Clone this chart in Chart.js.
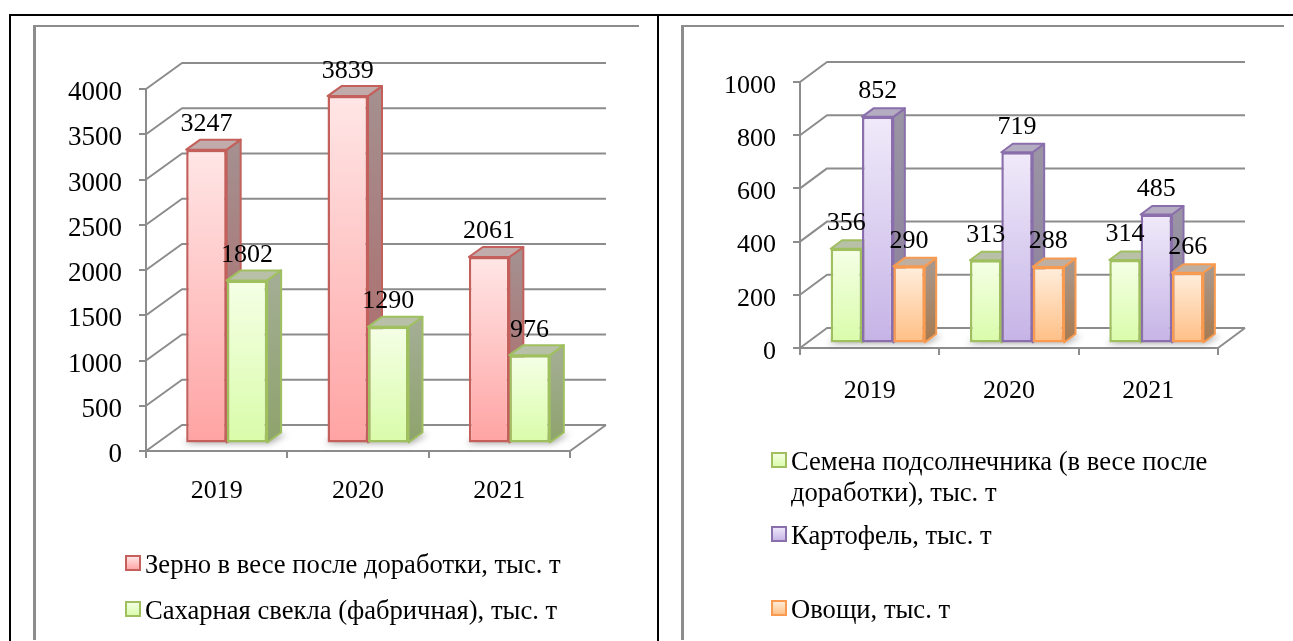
<!DOCTYPE html>
<html lang="ru">
<head>
<meta charset="utf-8">
<title>Производство продукции</title>
<script src="https://cdn.jsdelivr.net/npm/chart.js@4"></script>
<style>
    html, body { margin: 0; padding: 0; background: #fff; overflow: hidden; }
    body { width: 1293px; height: 641px; position: relative; }
    canvas { position: absolute; top: 0; }
    .line { position: absolute; }
    .black { background: #000; }
    .gray { background: #8c8c8c; }
</style>
</head>
<body>
<!-- table frame and chart borders -->
<div class="line black" style="left:9px;top:14px;width:1284px;height:2px"></div>
<div class="line black" style="left:9px;top:14px;width:2px;height:627px"></div>
<div class="line black" style="left:657px;top:14px;width:2px;height:627px"></div>
<div class="line gray" style="left:33px;top:25px;width:606px;height:2px"></div>
<div class="line gray" style="left:33px;top:25px;width:3px;height:615px"></div>
<div class="line gray" style="left:681px;top:25px;width:603px;height:2px"></div>
<div class="line gray" style="left:681px;top:25px;width:3px;height:615px"></div>
<canvas id="chartLeft" width="650" height="641" style="left:0"></canvas>
<canvas id="chartRight" width="633" height="641" style="left:660px"></canvas>
<script>
// Chart data
const categories = ['2019', '2020', '2021'];

const grainValues = [3247, 3839, 2061];
const beetValues = [1802, 1290, 976];
const sunflowerValues = [356, 313, 314];
const potatoValues = [852, 719, 485];
const vegetableValues = [290, 288, 266];

const grainName = ['Зерно в весе после доработки, тыс. т'];
const beetName = ['Сахарная свекла (фабричная), тыс. т'];
const sunflowerName = ['Семена подсолнечника (в весе после', 'доработки), тыс. т'];
const potatoName = ['Картофель, тыс. т'];
const vegetableName = ['Овощи, тыс. т'];

// Colours
const RED = { border: '#c4605c', light: '#ffe6e6', dark: '#ffa3a3', sideTop: '#a58f8f', sideBottom: '#b06565', roof: '#c2abab' };
const GREEN = { border: '#a0c060', light: '#f5ffe6', dark: '#d9fca9', sideTop: '#a3ad93', sideBottom: '#8ea36c', roof: '#b8c0a8' };
const PURPLE = { border: '#8a6fac', light: '#f0eafa', dark: '#c5b3e6', sideTop: '#9a94a4', sideBottom: '#8a7e9c', roof: '#b4acc0' };
const ORANGE = { border: '#f89a50', light: '#ffeedd', dark: '#ffbe84', sideTop: '#a8968a', sideBottom: '#a67a50', roof: '#bfafa0' };

const GRID_COLOR = '#8c8c8c';
const FONT_FAMILY = '"Liberation Serif", serif';

// Bar front face gradient, light on top and darker at the floor
function barGradient(colors) {
    return (context) => {
        const chart = context.chart;
        const yScale = chart.scales.y;
        if (!yScale || context.type !== 'data') return colors.dark;
        const top = yScale.getPixelForValue(context.raw);
        const bottom = yScale.getPixelForValue(0);
        if (!Number.isFinite(top) || !Number.isFinite(bottom)) return colors.dark;
        const gradient = chart.ctx.createLinearGradient(0, top, 0, bottom);
        gradient.addColorStop(0, colors.light);
        gradient.addColorStop(1, colors.dark);
        return gradient;
    };
}

function makeDataset(name, values, colors) {
    return {
        label: name.join(' '),
        data: values,
        colors: colors,
        lines: name,
        backgroundColor: barGradient(colors),
        borderColor: colors.border,
        borderWidth: 2.5,
        borderSkipped: false,
        clip: false
    };
}

// Side and top faces of one bar
function drawBarFaces(ctx, bar, colors, opts) {
    const l = bar.x - bar.width / 2;
    const r = bar.x + bar.width / 2;
    const t = bar.y, b = bar.base;

    const side = ctx.createLinearGradient(0, t, 0, b);
    side.addColorStop(0, colors.sideTop);
    side.addColorStop(1, colors.sideBottom);

    ctx.lineWidth = 2;
    ctx.lineJoin = 'round';
    ctx.strokeStyle = colors.border;

    ctx.fillStyle = side;
    ctx.beginPath();
    ctx.moveTo(r, t);
    ctx.lineTo(r + opts.depthX, t - opts.depthY);
    ctx.lineTo(r + opts.depthX, b - opts.depthY);
    ctx.lineTo(r, b);
    ctx.closePath();
    ctx.fill();
    ctx.stroke();

    ctx.fillStyle = colors.roof;
    ctx.beginPath();
    ctx.moveTo(l, t);
    ctx.lineTo(l + opts.depthX, t - opts.depthY);
    ctx.lineTo(r + opts.depthX, t - opts.depthY);
    ctx.lineTo(r, t);
    ctx.closePath();
    ctx.fill();
    ctx.stroke();
}

// Draws walls, floor, bars in series order (left bar first), value labels and legend
const fake3d = {
    id: 'fake3d',
    beforeDatasetsDraw(chart, args, opts) {
        const { ctx, scales: { x, y } } = chart;
        const left = x.left, right = x.right, floor = y.getPixelForValue(0);
        const metas = chart.getSortedVisibleDatasetMetas();

        ctx.save();
        ctx.strokeStyle = GRID_COLOR;
        ctx.lineWidth = 2;
        ctx.lineJoin = 'round';

        // Side wall and back wall grid lines
        y.ticks.forEach((tick) => {
            const py = y.getPixelForValue(tick.value);
            ctx.beginPath();
            ctx.moveTo(left, py);
            ctx.lineTo(left + opts.wallX, py - opts.wallY);
            ctx.lineTo(right + opts.wallX, py - opts.wallY);
            ctx.stroke();
        });

        // Floor right edge
        ctx.beginPath();
        ctx.moveTo(right, floor);
        ctx.lineTo(right + opts.wallX, floor - opts.wallY);
        ctx.stroke();

        // Soft shadow on the floor
        const first = metas[0].data, last = metas[metas.length - 1].data;
        ctx.filter = 'blur(3px)';
        ctx.fillStyle = 'rgba(0, 0, 0, 0.35)';
        first.forEach((bar, i) => {
            const x0 = bar.x - bar.width / 2 + opts.shiftX;
            const x1 = last[i].x + last[i].width / 2 + opts.shiftX;
            const yb = floor - opts.shiftY;
            ctx.beginPath();
            ctx.moveTo(x0 - 3, yb);
            ctx.lineTo(x1 + 2, yb);
            ctx.lineTo(x1 + opts.depthX + 6, yb - opts.depthY + 1);
            ctx.lineTo(x0 + opts.depthX, yb - opts.depthY + 1);
            ctx.closePath();
            ctx.fill();
        });
        ctx.restore();

        // Chart.js paints the last series first, here the later series must lie on top
        metas.forEach((meta) => {
            const colors = chart.data.datasets[meta.index].colors;
            ctx.save();
            ctx.translate(opts.shiftX, -opts.shiftY);
            meta.data.forEach((bar) => drawBarFaces(ctx, bar, colors, opts));
            meta.controller.draw();
            ctx.restore();
        });
        return false;
    },
    afterDraw(chart, args, opts) {
        const { ctx } = chart;
        ctx.save();
        ctx.fillStyle = '#000';
        ctx.font = `26px ${FONT_FAMILY}`;
        ctx.textAlign = 'center';
        ctx.textBaseline = 'alphabetic';
        chart.getSortedVisibleDatasetMetas().forEach((meta) => {
            meta.data.forEach((bar, i) => {
                const value = chart.data.datasets[meta.index].data[i];
                ctx.fillText(String(value), bar.x + opts.shiftX, bar.y - opts.shiftY - opts.labelGap);
            });
        });

        // Legend
        ctx.textAlign = 'left';
        ctx.font = `${opts.legendSize}px ${FONT_FAMILY}`;
        chart.data.datasets.forEach((dataset, i) => {
            const top = opts.legendTops[i];
            const colors = dataset.colors;
            const gradient = ctx.createLinearGradient(0, top, 0, top + 14);
            gradient.addColorStop(0, colors.light);
            gradient.addColorStop(1, colors.dark);
            ctx.fillStyle = gradient;
            ctx.strokeStyle = colors.border;
            ctx.lineWidth = 2;
            ctx.fillRect(opts.legendX, top, 14, 14);
            ctx.strokeRect(opts.legendX, top, 14, 14);
            ctx.fillStyle = '#000';
            dataset.lines.forEach((line, n) => {
                ctx.fillText(line, opts.legendX + 19, top + 17 + n * 30.5);
            });
        });
        ctx.restore();
    }
};

function makeChart(id, datasets, maxValue, step, percent, area, fakeOptions) {
    return new Chart(document.getElementById(id), {
        type: 'bar',
        data: { labels: categories, datasets: datasets },
        plugins: [fake3d],
        options: {
            responsive: false,
            animation: false,
            events: [],
            categoryPercentage: percent,
            barPercentage: 1,
            layout: { padding: { left: 0, top: area.top, right: area.right, bottom: 0 } },
            plugins: {
                legend: { display: false },
                tooltip: { enabled: false },
                fake3d: fakeOptions
            },
            scales: {
                x: {
                    grid: { drawOnChartArea: false, color: GRID_COLOR, lineWidth: 2, tickLength: 7 },
                    border: { color: GRID_COLOR, width: 2 },
                    ticks: { color: '#000', font: { family: FONT_FAMILY, size: 26 }, padding: area.xPad, maxRotation: 0 },
                    afterFit(scale) { scale.height = 641 - area.floor; }
                },
                y: {
                    min: 0,
                    max: maxValue,
                    grid: { drawOnChartArea: false, color: GRID_COLOR, lineWidth: 2, tickLength: 7 },
                    border: { color: GRID_COLOR, width: 2 },
                    ticks: {
                        color: '#000',
                        stepSize: step,
                        // blank first line moves the number a little below the tick, as in the original
                        font: { family: FONT_FAMILY, size: area.tickSize, lineHeight: '8px' },
                        padding: area.yPad,
                        callback: (value) => ['', String(value)]
                    },
                    afterFit(scale) { scale.width = area.left; }
                }
            }
        }
    });
}

document.addEventListener('DOMContentLoaded', () => {
    makeChart('chartLeft',
        [makeDataset(grainName, grainValues, RED), makeDataset(beetName, beetValues, GREEN)],
        4000, 500, 0.573,
        { left: 146, top: 89, right: 80, floor: 451, xPad: 18, yPad: 17, tickSize: 27 },
        { wallX: 36, wallY: 26, shiftX: 10, shiftY: 7.5, depthX: 14, depthY: 10, labelGap: 18.5, legendX: 126, legendTops: [556, 602], legendSize: 26.6 }
    );

    makeChart('chartRight',
        [makeDataset(sunflowerName, sunflowerValues, GREEN), makeDataset(potatoName, potatoValues, PURPLE), makeDataset(vegetableName, vegetableValues, ORANGE)],
        1000, 200, 0.675,
        { left: 140, top: 82, right: 75, floor: 348, xPad: 21, yPad: 17, tickSize: 26 },
        { wallX: 27, wallY: 20, shiftX: 8, shiftY: 4.5, depthX: 11.5, depthY: 8.5, labelGap: 18.5, legendX: 112, legendTops: [453, 527, 601], legendSize: 26.6 }
    );
});
</script>
</body>
</html>
